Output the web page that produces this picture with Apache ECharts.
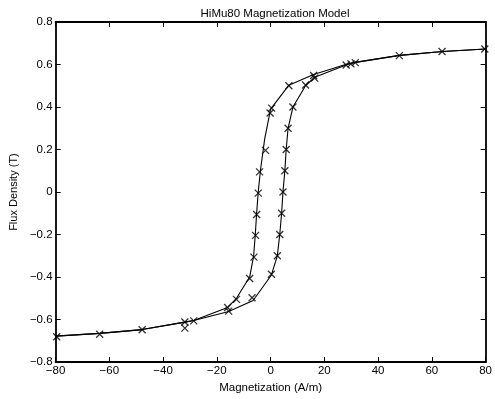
<!DOCTYPE html>
<html>
<head>
<meta charset="utf-8">
<script src="https://cdn.jsdelivr.net/npm/echarts@6/dist/echarts.min.js"></script>
<style>html,body{margin:0;padding:0;background:#fff}#c{width:495px;height:399px}</style>
</head>
<body>
<div id="c"></div>
<script>
// Model curve: descending branch (from +H down to -H)
const descendingLine = [
  [80, 0.673], [64, 0.661], [48, 0.643], [31.5, 0.61], [28.5, 0.602], [16, 0.553],
  [6.8, 0.503], [0, 0.39], [-2.2, 0.25], [-3.8, 0.1], [-4.6, 0], [-5.2, -0.1],
  [-5.7, -0.2], [-6.3, -0.3], [-7.8, -0.4], [-12.7, -0.5], [-16, -0.543],
  [-28.6, -0.604], [-31.9, -0.612], [-47.8, -0.647], [-63.6, -0.665], [-80, -0.678]
];
// Model curve: ascending branch (from -H up to +H)
const ascendingLine = [
  [-80, -0.678], [-63.6, -0.665], [-47.8, -0.647], [-31.9, -0.612], [-28.6, -0.604],
  [-15.6, -0.562], [-6.5, -0.51], [0.3, -0.39], [2.5, -0.3], [3.4, -0.2], [4.1, -0.1],
  [4.6, 0], [5.3, 0.1], [5.8, 0.2], [6.5, 0.3], [8.3, 0.4], [13, 0.5], [16.4, 0.54],
  [28.5, 0.6], [31.5, 0.61], [48, 0.643], [64, 0.661], [80, 0.673]
];
// Measured points (x markers)
const measuredPoints = [
  [79.7, 0.673], [63.8, 0.661], [47.9, 0.642], [31.5, 0.609], [29.9, 0.603], [28.1, 0.598],
  [16, 0.548], [16.4, 0.536], [13, 0.504], [6.8, 0.5], [0.4, 0.395], [-0.2, 0.372],
  [-1.9, 0.196], [-4.1, 0.095], [-4.6, -0.005], [-5.2, -0.106], [-5.6, -0.204],
  [-6.2, -0.306], [-7.8, -0.407], [-12.7, -0.505], [-16, -0.543], [-15.6, -0.56],
  [-6.9, -0.497], [0.3, -0.387], [2.5, -0.3], [3.4, -0.2], [4.1, -0.1], [4.6, 0],
  [5.3, 0.1], [5.8, 0.2], [6.5, 0.3], [8.3, 0.4],
  [-28.6, -0.606], [-31.9, -0.611], [-31.9, -0.64], [-47.8, -0.648], [-63.6, -0.669], [-79.6, -0.681]
];
const xTicks = [-80, -60, -40, -20, 0, 20, 40, 60, 80];
const yTicks = [-0.8, -0.6, -0.4, -0.2, 0, 0.2, 0.4, 0.6, 0.8];

const FONT = '"Liberation Sans", Arial, Helvetica, sans-serif';
const minus = s => String(s).replace('-', '\u2212');
const chart = echarts.init(document.getElementById('c'), null, {renderer: 'canvas'});
const axisLine = {show: true, onZero: false, lineStyle: {color: '#000', width: 1.8}};
const tick = {show: true, inside: true, length: 5, lineStyle: {color: '#000', width: 1}};
chart.setOption({
  animation: false,
  backgroundColor: '#fff',
  title: {
    text: 'HiMu80 Magnetization Model', left: 270, top: 3, textAlign: 'center',
    textStyle: {fontFamily: FONT, fontSize: 11.5, fontWeight: 'normal', color: '#000'}
  },
  grid: {left: 54, right: 9, top: 22, bottom: 36, containLabel: false},
  xAxis: [{
    type: 'value', min: xTicks[0], max: xTicks[xTicks.length - 1], interval: 20,
    position: 'bottom', axisLine, axisTick: tick, splitLine: {show: false},
    axisLabel: {margin: 3, fontFamily: FONT, fontSize: 11.5, color: '#000', formatter: v => minus(v)},
    name: 'Magnetization (A/m)', nameLocation: 'middle', nameGap: 19,
    nameTextStyle: {fontFamily: FONT, fontSize: 11.5, color: '#000'}
  }, {
    type: 'value', min: xTicks[0], max: xTicks[xTicks.length - 1], interval: 20,
    position: 'top', axisLine, axisTick: tick, axisLabel: {show: false}, splitLine: {show: false}
  }],
  yAxis: [{
    type: 'value', min: yTicks[0], max: yTicks[yTicks.length - 1], interval: 0.2,
    position: 'left', axisLine, axisTick: tick, splitLine: {show: false},
    axisLabel: {margin: 3, fontFamily: FONT, fontSize: 11.5, color: '#000',
      formatter: v => minus(Math.abs(v) < 1e-9 ? '0' : (Math.round(v * 10) / 10).toString())},
    name: 'Flux Density (T)', nameLocation: 'middle', nameGap: 27,
    nameTextStyle: {fontFamily: FONT, fontSize: 11, color: '#000'}
  }, {
    type: 'value', min: yTicks[0], max: yTicks[yTicks.length - 1], interval: 0.2,
    position: 'right', axisLine, axisTick: tick, axisLabel: {show: false}, splitLine: {show: false}
  }],
  series: [{
    type: 'line', data: descendingLine, showSymbol: false, symbol: 'none',
    lineStyle: {color: '#000', width: 1.1}, silent: true
  }, {
    type: 'line', data: ascendingLine, showSymbol: false, symbol: 'none',
    lineStyle: {color: '#000', width: 1.1}, silent: true
  }, {
    type: 'scatter', data: measuredPoints,
    symbol: 'path://M0,0L10,10M10,0L0,10', symbolSize: 7,
    itemStyle: {color: 'none', borderColor: '#000', borderWidth: 1.3}, silent: true
  }]
});
</script>
</body>
</html>
